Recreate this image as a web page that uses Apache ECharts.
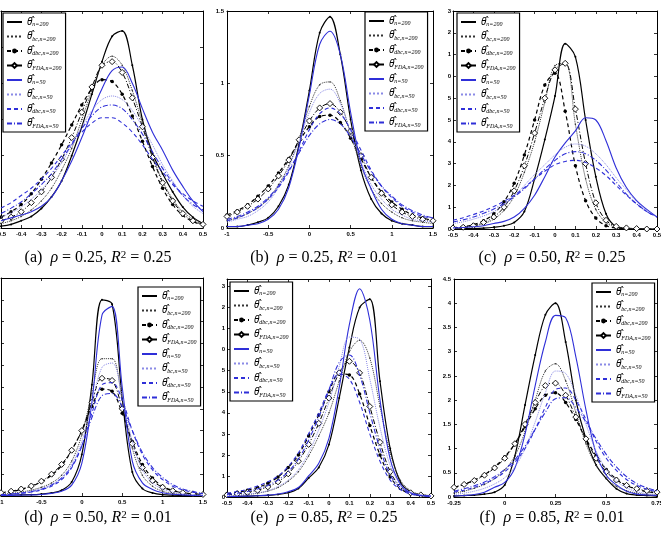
<!DOCTYPE html>
<html>
<head>
<meta charset="utf-8">
<script src="https://cdn.jsdelivr.net/npm/echarts@6/dist/echarts.min.js"></script>
<style>
  html, body { margin: 0; padding: 0; background: #fff; }
  #chart { width: 661px; height: 537px; }
</style>
</head>
<body>
<div id="chart"></div>
<script>
// x grids of each panel
const xA = [-0.5,-0.45,-0.4,-0.35,-0.3,-0.25,-0.2,-0.15,-0.1,-0.05,0,0.05,0.1,0.15,0.2,0.25,0.3,0.35,0.4,0.45,0.5];
const xB = [-1,-0.875,-0.75,-0.625,-0.5,-0.375,-0.25,-0.125,0,0.125,0.25,0.375,0.5,0.625,0.75,0.875,1,1.125,1.25,1.375,1.5];
const xC = [-0.5,-0.45,-0.4,-0.35,-0.3,-0.25,-0.2,-0.15,-0.1,-0.05,0,0.05,0.1,0.15,0.2,0.25,0.3,0.35,0.4,0.45,0.5];
const xD = [-1,-0.875,-0.75,-0.625,-0.5,-0.375,-0.25,-0.125,0,0.125,0.25,0.375,0.5,0.625,0.75,0.875,1,1.125,1.25,1.375,1.5];
const xE = [-0.5,-0.45,-0.4,-0.35,-0.3,-0.25,-0.2,-0.15,-0.1,-0.05,0,0.05,0.1,0.15,0.2,0.25,0.3,0.35,0.4,0.45,0.5];
const xF = [-0.25,-0.2,-0.15,-0.1,-0.05,0,0.05,0.1,0.15,0.2,0.25,0.3,0.35,0.4,0.45,0.5,0.55,0.6,0.65,0.7,0.75];

// (a) rho=0.25, R2=0.25
const aN200   = [0.05,0.1,0.2,0.32,0.54,0.86,1.3,2.0,2.8,3.7,4.6,5.3,5.45,4.5,3.0,2.06,1.5,1.0,0.58,0.3,0.12];
const aBc200  = [0.12,0.2,0.32,0.5,0.75,1.1,1.6,2.2,3.0,3.8,4.5,4.75,4.5,3.8,2.9,2.0,1.3,0.8,0.45,0.25,0.12];
const aDbc200 = [0.3,0.45,0.65,0.95,1.35,1.8,2.3,2.85,3.4,3.85,4.1,4.05,3.7,3.1,2.4,1.7,1.1,0.65,0.35,0.18,0.08];
const aFda200 = [0.2,0.3,0.45,0.7,1.0,1.4,1.9,2.5,3.2,3.9,4.5,4.6,4.3,3.6,2.8,1.95,1.25,0.75,0.4,0.2,0.1];
const aN50    = [0.2,0.28,0.36,0.45,0.6,0.85,1.3,1.85,2.5,3.2,3.85,4.35,4.45,4.0,3.3,2.65,2.15,1.6,1.15,0.75,0.45];
const aBc50   = [0.3,0.42,0.58,0.8,1.05,1.4,1.8,2.3,2.8,3.25,3.55,3.65,3.55,3.25,2.8,2.3,1.75,1.3,0.9,0.6,0.4];
const aDbc50  = [0.55,0.7,0.9,1.1,1.35,1.65,2.0,2.35,2.65,2.9,3.05,3.05,2.9,2.65,2.3,1.9,1.55,1.2,0.95,0.75,0.6];
const aFda50  = [0.4,0.55,0.72,0.95,1.2,1.5,1.9,2.3,2.75,3.1,3.35,3.4,3.3,3.0,2.6,2.1,1.65,1.25,0.9,0.65,0.5];

// (b) rho=0.25, R2=0.01
const bN200   = [0.01,0.01,0.02,0.04,0.07,0.15,0.3,0.58,0.95,1.35,1.46,1.2,0.75,0.4,0.2,0.1,0.05,0.03,0.02,0.01,0.01];
const bBc200  = [0.05,0.07,0.1,0.14,0.2,0.3,0.43,0.62,0.84,0.99,1.01,0.88,0.65,0.43,0.27,0.17,0.11,0.07,0.05,0.04,0.03];
const bDbc200 = [0.09,0.12,0.16,0.22,0.29,0.38,0.48,0.6,0.7,0.77,0.78,0.73,0.62,0.48,0.35,0.25,0.18,0.13,0.09,0.07,0.05];
const bFda200 = [0.08,0.11,0.15,0.2,0.27,0.36,0.47,0.61,0.74,0.83,0.86,0.8,0.67,0.5,0.35,0.24,0.16,0.11,0.08,0.06,0.05];
const bN50    = [0.01,0.01,0.02,0.03,0.06,0.13,0.28,0.56,0.92,1.27,1.36,1.2,0.8,0.45,0.27,0.13,0.06,0.03,0.02,0.01,0.01];
const bBc50   = [0.04,0.06,0.08,0.12,0.18,0.28,0.42,0.6,0.8,0.93,0.96,0.86,0.66,0.46,0.3,0.2,0.13,0.09,0.06,0.05,0.04];
const bDbc50  = [0.05,0.07,0.1,0.14,0.2,0.28,0.39,0.53,0.68,0.79,0.83,0.79,0.68,0.54,0.4,0.29,0.21,0.15,0.11,0.08,0.07];
const bFda50  = [0.06,0.08,0.11,0.15,0.21,0.29,0.4,0.52,0.64,0.72,0.75,0.72,0.63,0.51,0.39,0.29,0.22,0.16,0.12,0.09,0.07];

// (c) rho=0.50, R2=0.25
const cN200   = [0,0.01,0.02,0.04,0.08,0.15,0.3,0.8,2.3,4.1,6.1,8.5,7.9,5.0,2.4,0.7,0.1,0.02,0,0,0];
const cBc200  = [0.04,0.07,0.13,0.25,0.45,0.85,1.5,2.6,4.0,5.8,7.5,7.6,4.8,2.3,0.9,0.3,0.08,0.02,0,0,0];
const cDbc200 = [0.06,0.1,0.2,0.38,0.7,1.25,2.1,3.4,5.0,6.6,7.15,5.4,2.9,1.3,0.5,0.15,0.05,0.02,0,0,0];
const cFda200 = [0.05,0.08,0.15,0.3,0.55,1.0,1.75,2.9,4.4,6.0,7.3,7.6,5.5,3.0,1.2,0.4,0.12,0.05,0.02,0,0];
const cN50    = [0.05,0.07,0.1,0.15,0.25,0.35,0.55,0.95,1.55,2.4,3.3,3.95,4.5,5.1,5.0,4.05,2.8,1.9,1.3,0.9,0.55];
const cBc50   = [0.25,0.33,0.45,0.6,0.8,1.1,1.5,2.0,2.5,2.95,3.4,3.75,3.9,3.8,3.45,2.95,2.35,1.8,1.25,0.85,0.55];
const cDbc50  = [0.4,0.52,0.66,0.83,1.03,1.27,1.55,1.9,2.3,2.65,2.95,3.1,3.15,3.05,2.8,2.45,2.0,1.55,1.15,0.8,0.55];
const cFda50  = [0.32,0.42,0.55,0.72,0.92,1.17,1.48,1.85,2.3,2.75,3.15,3.45,3.55,3.45,3.15,2.7,2.15,1.6,1.15,0.8,0.55];

// (d) rho=0.50, R2=0.01
const dN200   = [0.03,0.04,0.05,0.06,0.09,0.14,0.26,0.64,1.9,5.1,9.0,8.8,4.5,1.1,0.34,0.14,0.06,0.04,0.03,0.02,0.02];
const dBc200  = [0.08,0.12,0.18,0.27,0.4,0.6,0.95,1.6,2.8,4.7,6.3,6.3,4.4,2.2,0.95,0.45,0.22,0.12,0.07,0.05,0.03];
const dDbc200 = [0.14,0.2,0.3,0.44,0.65,0.95,1.4,2.1,3.0,4.1,4.9,4.8,3.8,2.5,1.45,0.82,0.45,0.26,0.15,0.1,0.06];
const dFda200 = [0.15,0.22,0.32,0.46,0.68,1.0,1.45,2.1,3.0,4.3,5.4,5.3,4.0,2.4,1.3,0.7,0.4,0.24,0.15,0.1,0.07];
const dN50    = [0.02,0.03,0.04,0.05,0.07,0.12,0.22,0.5,1.5,4.3,8.3,8.7,5.0,1.6,0.6,0.3,0.15,0.08,0.05,0.03,0.02];
const dBc50   = [0.06,0.09,0.14,0.22,0.34,0.52,0.85,1.45,2.5,4.2,5.9,6.1,4.6,2.5,1.2,0.6,0.32,0.18,0.1,0.06,0.04];
const dDbc50  = [0.05,0.08,0.12,0.18,0.28,0.45,0.75,1.3,2.3,3.8,5.1,5.2,4.4,3.0,1.9,1.2,0.75,0.45,0.28,0.17,0.1];
const dFda50  = [0.06,0.09,0.13,0.2,0.31,0.5,0.82,1.35,2.3,3.6,4.6,4.7,4.1,3.0,2.0,1.3,0.85,0.52,0.32,0.2,0.12];

// (e) rho=0.85, R2=0.25
const eN200   = [0.02,0.03,0.04,0.06,0.08,0.12,0.2,0.4,0.9,1.4,2.5,4.7,7.1,9.0,9.4,5.5,2.3,0.7,0.24,0.1,0.05];
const eBc200  = [0.05,0.08,0.12,0.18,0.28,0.45,0.75,1.2,1.95,2.9,4.0,5.5,6.9,7.45,6.6,4.3,2.1,0.8,0.3,0.12,0.06];
const eDbc200 = [0.15,0.22,0.32,0.45,0.65,0.95,1.4,2.0,2.9,3.9,5.0,5.85,5.8,4.9,3.4,2.0,0.95,0.4,0.16,0.07,0.03];
const eFda200 = [0.1,0.15,0.22,0.32,0.48,0.72,1.1,1.7,2.5,3.5,4.7,5.9,6.45,5.9,4.3,2.6,1.2,0.5,0.2,0.1,0.05];
const eN50    = [0.02,0.03,0.04,0.06,0.09,0.14,0.25,0.45,1.0,1.6,2.8,5.2,8.2,9.9,8.4,4.6,1.8,0.6,0.2,0.08,0.04];
const eBc50   = [0.06,0.09,0.14,0.2,0.3,0.5,0.8,1.3,2.1,3.2,4.5,6.2,7.6,7.5,5.6,3.3,1.5,0.6,0.22,0.1,0.05];
const eDbc50  = [0.18,0.26,0.37,0.52,0.72,1.0,1.45,2.1,3.0,4.0,5.1,5.85,5.6,4.5,3.0,1.7,0.8,0.35,0.14,0.06,0.03];
const eFda50  = [0.12,0.18,0.26,0.38,0.55,0.8,1.2,1.8,2.7,3.8,5.1,6.4,6.75,5.8,4.0,2.3,1.05,0.45,0.18,0.08,0.04];

// (f) rho=0.85, R2=0.01
const fN200   = [0.02,0.03,0.04,0.06,0.1,0.25,0.85,1.9,2.93,3.76,4.0,3.2,2.0,1.2,0.66,0.38,0.17,0.07,0.04,0.03,0.02];
const fBc200  = [0.08,0.12,0.18,0.26,0.38,0.56,0.85,1.35,2.0,2.6,2.75,2.4,1.75,1.1,0.65,0.38,0.22,0.13,0.08,0.05,0.04];
const fDbc200 = [0.2,0.26,0.35,0.46,0.62,0.83,1.1,1.45,1.82,2.1,2.15,1.95,1.6,1.2,0.85,0.57,0.37,0.24,0.16,0.11,0.08];
const fFda200 = [0.2,0.26,0.34,0.45,0.6,0.8,1.1,1.5,1.95,2.3,2.35,2.1,1.65,1.2,0.8,0.52,0.35,0.24,0.17,0.13,0.1];
const fN50    = [0.02,0.03,0.05,0.1,0.2,0.3,0.6,1.3,2.3,3.2,3.75,3.7,2.9,1.8,0.9,0.45,0.25,0.12,0.06,0.04,0.03];
const fBc50   = [0.05,0.08,0.12,0.18,0.27,0.4,0.62,1.0,1.55,2.15,2.6,2.55,2.1,1.5,0.95,0.57,0.33,0.19,0.11,0.07,0.05];
const fDbc50  = [0.1,0.14,0.2,0.28,0.38,0.52,0.72,1.0,1.4,1.85,2.22,2.25,2.0,1.6,1.15,0.8,0.55,0.36,0.24,0.16,0.11];
const fFda50  = [0.12,0.17,0.23,0.31,0.42,0.57,0.77,1.05,1.4,1.75,2.03,2.05,1.85,1.55,1.2,0.88,0.62,0.42,0.28,0.19,0.13];

// tick labels (the subfigures were cropped, so some labels only show their last digit)
const yLabelsC = ['0','1','2','3','4','5','5','0','1','2','3'];
const yLabelsE = ['0','1','2','3','4','5','5','0','1','2','3'];

const seriesNames = ['n=200', 'bc,n=200', 'dbc,n=200', 'FDA,n=200', 'n=50', 'bc,n=50', 'dbc,n=50', 'FDA,n=50'];
const captions = [
  ['(a)', '0.25', '0.25'], ['(b)', '0.25', '0.01'], ['(c)', '0.50', '0.25'],
  ['(d)', '0.50', '0.01'], ['(e)', '0.85', '0.25'], ['(f)', '0.85', '0.01']
];

const BLUE = '#2f2fd8';
const styles = [
  { color: '#000', type: 'solid', width: 1.2, symbol: 'circle', size: 2 },
  { color: '#333', type: 'dotted', width: 1, symbol: 'circle', size: 1.5 },
  { color: '#000', type: [4, 3], width: 1.2, symbol: 'circle', size: 3.5, legendMark: true },
  { color: '#000', type: [5, 2, 1, 2], width: 1, symbol: 'diamond', size: 6, fill: '#fff', legendMark: true },
  { color: BLUE, type: 'solid', width: 1.1, symbol: 'none' },
  { color: '#8a8ae6', type: 'dotted', width: 1, symbol: 'none' },
  { color: BLUE, type: [4, 3], width: 1.1, symbol: 'none' },
  { color: BLUE, type: [5, 2, 1, 2], width: 1.1, symbol: 'none' }
];

const panels = [
  { x: xA, ys: [aN200, aBc200, aDbc200, aFda200, aN50, aBc50, aDbc50, aFda50],
    box: [1, 11, 202, 217], xr: [-0.5, 0.5, 0.1], yr: [0, 6, 1], yLab: null, leg: [3, 13], cap: [98, 258] },
  { x: xB, ys: [bN200, bBc200, bDbc200, bFda200, bN50, bBc50, bDbc50, bFda50],
    box: [227, 11, 206, 217], xr: [-1, 1.5, 0.5], yr: [0, 1.5, 0.5], yLab: 'num', leg: [365, 12], cap: [324, 258] },
  { x: xC, ys: [cN200, cBc200, cDbc200, cFda200, cN50, cBc50, cDbc50, cFda50],
    box: [453, 11, 204, 218], xr: [-0.5, 0.5, 0.1], yr: [0, 10, 1], yLab: yLabelsC, leg: [457, 13], cap: [552, 258] },
  { x: xD, ys: [dN200, dBc200, dDbc200, dFda200, dN50, dBc50, dDbc50, dFda50],
    box: [1, 278, 202, 218], xr: [-1, 1.5, 0.5], yr: [0, 10, 1], yLab: null, leg: [138, 287], cap: [98, 518] },
  { x: xE, ys: [eN200, eBc200, eDbc200, eFda200, eN50, eBc50, eDbc50, eFda50],
    box: [227, 279, 204, 218], xr: [-0.5, 0.5, 0.1], yr: [0, 10.36, 1], yLab: yLabelsE, leg: [230, 282], cap: [324, 518] },
  { x: xF, ys: [fN200, fBc200, fDbc200, fFda200, fN50, fBc50, fDbc50, fFda50],
    box: [454, 279, 203, 218], xr: [-0.25, 0.75, 0.25], yr: [0, 4.5, 0.5], yLab: 'num', leg: [592, 283], cap: [552, 518] }
];

const tickFont = { fontFamily: 'Liberation Sans', fontSize: 6, fontWeight: 'bold', color: '#000' };
const axisLine = { show: true, onZero: false, lineStyle: { color: '#000', width: 1 } };
const axisTick = { show: true, inside: true, length: 3, lineStyle: { color: '#000', width: 0.8 } };

// legend entries: only dbc/FDA n=200 keep a marker in the icon
const legendData = seriesNames.map((name, k) => styles[k].legendMark
  ? { name }
  : { name, itemStyle: { opacity: 0 } });

const grid = [], xAxis = [], yAxis = [], series = [], legend = [], graphic = [];

panels.forEach((p, i) => {
  grid.push({ left: p.box[0], top: p.box[1], width: p.box[2], height: p.box[3], outerBoundsMode: 'none' });
  const xBase = { type: 'value', gridIndex: i, min: p.xr[0], max: p.xr[1], interval: p.xr[2],
    splitLine: { show: false }, axisLine, axisTick };
  xAxis.push(Object.assign({}, xBase, { position: 'bottom', axisLabel: Object.assign({ margin: 3 }, tickFont) }));
  xAxis.push(Object.assign({}, xBase, { position: 'top', axisLabel: { show: false } }));

  let yLabel;
  if (p.yLab === null) {
    yLabel = { show: false };
  } else if (p.yLab === 'num') {
    yLabel = Object.assign({ margin: 3 }, tickFont);
  } else {
    const labs = p.yLab;
    yLabel = Object.assign({ margin: 2, formatter: v => (Math.abs(v - Math.round(v)) < 1e-6 ? labs[Math.round(v)] : '') }, tickFont);
  }
  const yBase = { type: 'value', gridIndex: i, min: p.yr[0], max: p.yr[1], interval: p.yr[2],
    splitLine: { show: false }, axisLine, axisTick };
  yAxis.push(Object.assign({}, yBase, { position: 'left', axisLabel: yLabel }));
  yAxis.push(Object.assign({}, yBase, { position: 'right', axisLabel: { show: false } }));

  p.ys.forEach((ys, k) => {
    const s = styles[k];
    series.push({
      type: 'line',
      name: seriesNames[k],
      xAxisIndex: 2 * i,
      yAxisIndex: 2 * i,
      data: p.x.map((xv, j) => [xv, ys[j]]),
      smooth: 0.35,
      symbol: s.symbol,
      symbolSize: s.size || 0,
      showSymbol: s.symbol !== 'none',
      lineStyle: { color: s.color, type: s.type, width: s.width },
      itemStyle: { color: s.fill || s.color, borderColor: s.color, borderWidth: s.fill ? 0.9 : 0 },
      emphasis: { disabled: true },
      animation: false,
      z: 2 + k * 0.01
    });
  });

  legend.push({
    data: legendData,
    orient: 'vertical',
    left: p.leg[0],
    top: p.leg[1],
    itemWidth: 15,
    itemHeight: 6,
    itemGap: 4,
    padding: [4, 4, 3, 3],
    borderColor: '#000',
    borderWidth: 1.2,
    borderRadius: 0,
    backgroundColor: '#fff',
    selectedMode: false,
    // theta with a combining circumflex, estimator name as subscript
    formatter: name => '{t|\u03B8\u0302}{s|' + name + '}',
    textStyle: {
      color: '#000',
      rich: {
        t: { fontFamily: 'Noto Sans', fontStyle: 'italic', fontSize: 10, lineHeight: 11 },
        s: { fontFamily: 'Liberation Serif', fontStyle: 'italic', fontSize: 6, lineHeight: 5, verticalAlign: 'bottom' }
      }
    }
  });

  const c = captions[i];
  graphic.push({
    type: 'text',
    x: p.cap[0],
    y: p.cap[1],
    style: {
      text: '{n|' + c[0] + '  }{i|\u03C1}{n| = ' + c[1] + ', }{i|R}{sup|2}{n| = ' + c[2] + '}',
      textAlign: 'center',
      textVerticalAlign: 'middle',
      fill: '#000',
      rich: {
        n: { fontFamily: 'Liberation Serif', fontSize: 16, verticalAlign: 'bottom' },
        i: { fontFamily: 'Liberation Serif', fontStyle: 'italic', fontSize: 16, verticalAlign: 'bottom' },
        sup: { fontFamily: 'Liberation Serif', fontSize: 11, verticalAlign: 'top' }
      }
    }
  });
});

const myChart = echarts.init(document.getElementById('chart'), null, { renderer: 'canvas' });
myChart.setOption({
  backgroundColor: '#fff',
  animation: false,
  grid, xAxis, yAxis, series, legend, graphic
});
</script>
</body>
</html>
